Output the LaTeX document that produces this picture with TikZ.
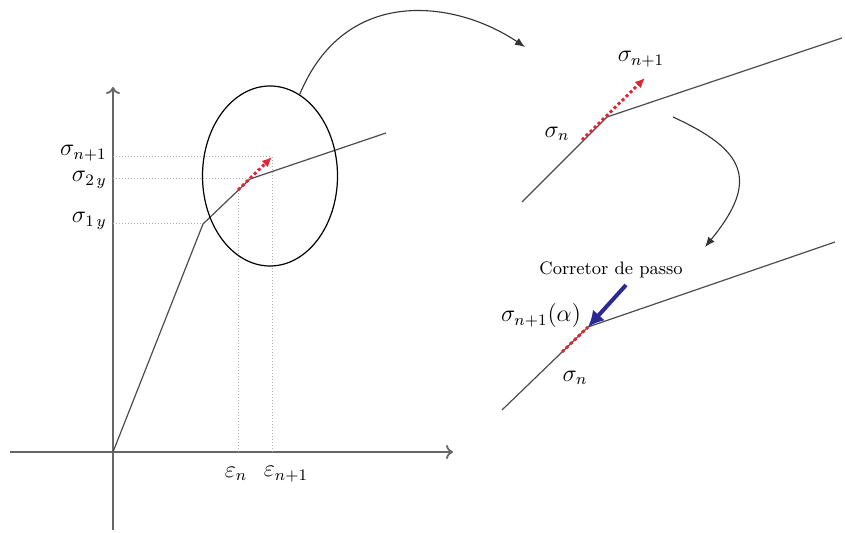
\documentclass[tikz,border=0pt]{standalone}
\usetikzlibrary{arrows.meta, shapes.geometric}
\definecolor{incred}{RGB}{222,38,52}
\definecolor{corrblue}{RGB}{44,40,150}

\begin{document}
\begin{tikzpicture}[
      x=0.5pt, y=-0.5pt,
      >={Latex[length=5pt,width=4pt]},
      axis/.style={-{To[length=3.5pt,width=7pt]}, draw=black!60, line width=0.9pt},
      curve/.style={draw=black!70, line width=0.6pt},
      guide/.style={densely dotted, draw=black!30, line width=0.5pt},
      incr/.style={-{Latex[length=5pt,width=4.5pt]}, draw=incred, line width=1.5pt,
        dash pattern=on 1.5pt off 1.3pt},
      corr/.style={-{Latex[length=8pt,width=8pt]}, draw=corrblue, line width=2pt},
      zoomarrow/.style={->, draw=black!80, line width=0.55pt},
      lab/.style={font=\large, inner sep=1pt},
      note/.style={font=\small, inner sep=1pt}
    ]
    \useasboundingbox (0,0) rectangle (845,533);

    \coordinate (O) at (113,452);
    \coordinate (xl) at (10,452);
    \coordinate (xr) at (453,452);
    \coordinate (yb) at (113,530);
    \coordinate (yt) at (113,87);
    \coordinate (k1) at (203,224);
    \coordinate (k2) at (250,179);
    \coordinate (kend) at (386,133);
    \coordinate (sn) at (238,190);
    \coordinate (sn1) at (272,157);

    \draw[axis] (xl) -- (xr);
    \draw[axis] (yb) -- (yt);

    \draw[guide] (O |- sn1) -- (sn1) -- (O -| sn1);
    \draw[guide] (O |- k2) -- (k2);
    \draw[guide] (O |- k1) -- (k1);
    \draw[guide] (sn) -- (O -| sn);

    \draw[curve] (O) -- (k1) -- (k2) -- (kend);
    \draw[incr] (sn) -- (sn1);

    \node[draw, ellipse, line width=0.6pt, minimum width=67.5pt, minimum height=90pt] (zoom) at (270,176) {};

    \node[lab, anchor=east] (Ls1) at (109,153) {$\sigma_{n+1}$};
    \node[lab, anchor=east] (Ls2y) at (109,180) {$\sigma_{2\,y}$};
    \node[lab, anchor=east] (Ls1y) at (109,221) {$\sigma_{1\,y}$};
    \node[lab] (Len) at (236,474) {$\varepsilon_n$};
    \node[lab] (Len1) at (286,474) {$\varepsilon_{n+1}$};

    \coordinate (tipA) at (525,47);
    \draw[zoomarrow] (zoom.70) .. controls (345,-15) and (455,0) .. (tipA);

    \coordinate (aLo) at (522,202);
    \coordinate (aK) at (607,117);
    \coordinate (aHi) at (842,38);
    \coordinate (aS) at (582,140);
    \coordinate (aT) at (645,78);
    \draw[curve] (aLo) -- (aK) -- (aHi);
    \draw[incr] (aS) -- (aT);
    \node[lab] (As1) at (641,59) {$\sigma_{n+1}$};
    \node[lab] (As) at (557,134) {$\sigma_n$};

    \coordinate (c2s) at (673,117);
    \coordinate (c2e) at (705,247);
    \draw[zoomarrow] (c2s) .. controls (745,150) and (760,180) .. (c2e);

    \coordinate (bLo) at (502,410);
    \coordinate (bK) at (588,327);
    \coordinate (bHi) at (835,242);
    \coordinate (bS) at (562,352);
    \coordinate (bC) at (626,285);
    \draw[curve] (bLo) -- (bK) -- (bHi);
    \draw[incr, -] (bS) -- (bK);
    \draw[corr] (bC) -- (bK);
    \node[note] (Bcorr) at (611,270) {Corretor de passo};
    \node[lab] (Bs1) at (541,316) {$\sigma_{n+1}(\alpha)$};
    \node[lab] (Bs) at (575,378) {$\sigma_n$};
  \end{tikzpicture}
\end{document}
